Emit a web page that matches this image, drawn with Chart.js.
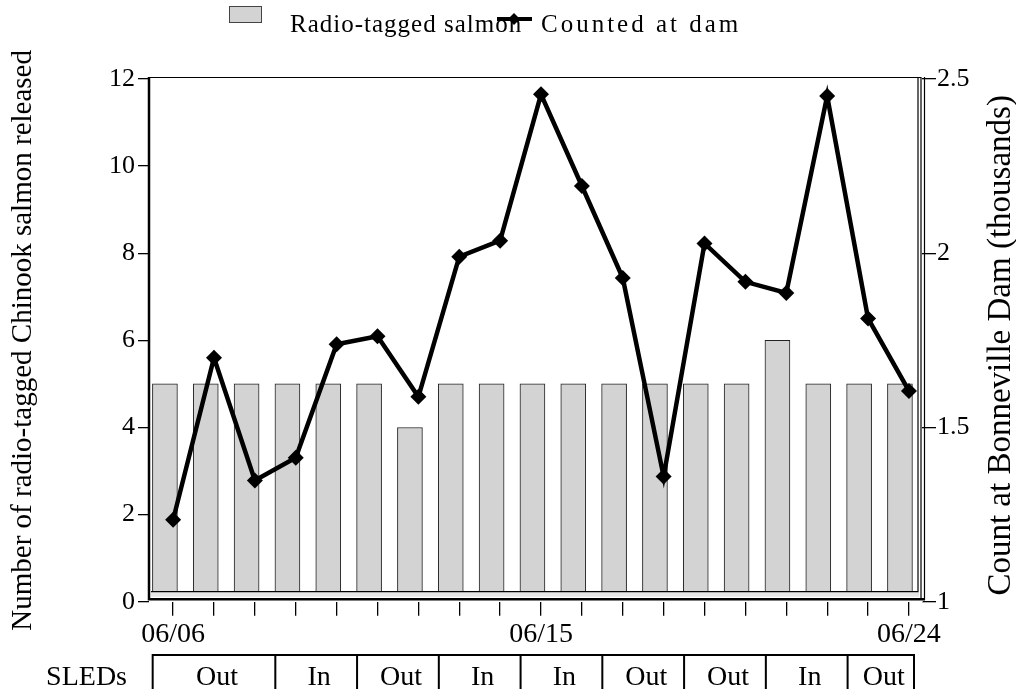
<!DOCTYPE html>
<html lang="en">

<head>
    <meta charset="utf-8" />
    <script src="https://cdn.jsdelivr.net/npm/chart.js@4.4.1/dist/chart.umd.min.js"></script>

    <style>
        html,
        body {
            margin: 0;
            padding: 0;
            background: #fff;
        }

        .chartBox {
            width: 1016px;
            height: 689px;
        }
    </style>
</head>

<body>
    <div class="chartBox">
        <canvas id="salmonChart"></canvas>
    </div>

    <script>
        // Release days, 06/06 .. 06/24
        const dates = [
            "06/06", "06/07", "06/08", "06/09", "06/10", "06/11", "06/12", "06/13", "06/14", "06/15",
            "06/16", "06/17", "06/18", "06/19", "06/20", "06/21", "06/22", "06/23", "06/24"
        ];
        const labelledDates = ["06/06", "06/15", "06/24"];

        // Radio-tagged fish released per day (left axis)
        const tagged = [5, 5, 5, 5, 5, 5, 4, 5, 5, 5, 5, 5, 5, 5, 5, 6, 5, 5, 5];

        // Daily count at the dam, thousands (right axis)
        const counted = [1.235, 1.70, 1.348, 1.413, 1.739, 1.762, 1.588, 1.99, 2.036, 2.456,
            2.193, 1.929, 1.359, 2.028, 1.918, 1.886, 2.451, 1.813, 1.605];

        // SLEDs status blocks: label and first day index of each block
        const sledLabels = ["Out", "In", "Out", "In", "In", "Out", "Out", "In", "Out"];
        const sledStarts = [0, 3, 5, 7, 9, 11, 13, 15, 17];

        const leftTitle = "Number of radio-tagged Chinook salmon released";
        const rightTitle = "Count at Bonneville Dam (thousands)";

        const serif = "'Liberation Serif', 'Times New Roman', serif";
        const barGrey = "#d3d3d3";

        // frame, legend, axis titles and the SLEDs row under the axis
        const decorations = {
            id: "decorations",
            beforeDraw(chart) {
                const ctx = chart.ctx;
                ctx.save();
                ctx.fillStyle = "#fff";
                ctx.fillRect(0, 0, chart.width, chart.height);
                ctx.restore();
            },
            afterDatasetsDraw(chart) {
                const { ctx, chartArea: a } = chart;
                ctx.save();
                // base strip under the bars
                ctx.fillStyle = "#fff";
                ctx.fillRect(a.left + 1, a.bottom - 10, a.right - a.left, 10);
                ctx.fillStyle = "#e6e6e6";
                ctx.fillRect(a.left + 2, a.bottom - 9.5, a.right - a.left - 5, 4.5);

                ctx.strokeStyle = "#000";
                ctx.lineWidth = 1.2;
                ctx.beginPath();
                // inner box
                ctx.moveTo(a.left + 2, a.bottom - 10);
                ctx.lineTo(a.right - 4, a.bottom - 10);
                ctx.lineTo(a.right - 4, a.top - 1);
                // top
                ctx.moveTo(a.left, a.top - 1.5);
                ctx.lineTo(a.right - 1, a.top - 1.5);
                // right double line
                ctx.moveTo(a.right - 1, a.top - 2);
                ctx.lineTo(a.right - 1, a.bottom - 3);
                ctx.moveTo(a.right + 2.5, a.top - 2);
                ctx.lineTo(a.right + 2.5, a.bottom - 2);
                ctx.stroke();

                // left axis and bottom axis
                ctx.lineWidth = 2.5;
                ctx.beginPath();
                ctx.moveTo(a.left, a.top - 2);
                ctx.lineTo(a.left, a.bottom - 2.5);
                ctx.lineTo(a.right + 3, a.bottom - 2.5);
                ctx.stroke();
                ctx.restore();
            },
            afterDraw(chart) {
                const { ctx, chartArea: a } = chart;
                const xs = chart.scales.x;
                const midY = (a.top + a.bottom) / 2;

                ctx.save();
                ctx.fillStyle = "#000";
                ctx.strokeStyle = "#000";

                // axis titles, both reading bottom to top
                ctx.textAlign = "center";
                ctx.textBaseline = "middle";
                [[23, leftTitle, 29, midY], [1001, rightTitle, 33, midY + 5]].forEach(([x, t, size, y]) => {
                    ctx.save();
                    ctx.font = size + "px " + serif;
                    ctx.translate(x, y);
                    ctx.rotate(-Math.PI / 2);
                    ctx.fillText(t, 0, 0);
                    ctx.restore();
                });

                // legend
                const bars = chart.data.datasets[0];
                const line = chart.data.datasets[1];
                ctx.fillStyle = barGrey;
                ctx.fillRect(229.5, 6.5, 32, 16);
                ctx.lineWidth = 1;
                ctx.strokeStyle = "#444";
                ctx.strokeRect(229.5, 6.5, 32, 16);

                ctx.fillStyle = "#000";
                ctx.font = "25px " + serif;
                ctx.textAlign = "left";
                ctx.textBaseline = "alphabetic";
                ctx.letterSpacing = "1px";
                ctx.fillText(bars.label, 290, 32);

                ctx.strokeStyle = "#000";
                ctx.lineWidth = 4;
                ctx.beginPath();
                ctx.moveTo(497, 19);
                ctx.lineTo(532, 19);
                ctx.stroke();
                ctx.beginPath();
                ctx.moveTo(514, 13);
                ctx.lineTo(520, 19);
                ctx.lineTo(514, 25);
                ctx.lineTo(508, 19);
                ctx.closePath();
                ctx.fill();

                ctx.letterSpacing = "3px";
                ctx.fillText(line.label, 541, 32);
                ctx.letterSpacing = "0px";

                // SLEDs row
                const top = 655;
                const bottom = chart.height + 10;
                const edges = sledStarts.map(s => xs.getPixelForValue(s - 0.5));
                edges.push(a.right - 8);
                ctx.lineWidth = 2;
                ctx.strokeRect(edges[0], top, edges[edges.length - 1] - edges[0], bottom - top);
                ctx.beginPath();
                edges.slice(1, -1).forEach(e => {
                    ctx.moveTo(e, top);
                    ctx.lineTo(e, bottom);
                });
                ctx.stroke();

                ctx.font = "28px " + serif;
                ctx.textAlign = "center";
                sledLabels.forEach((lab, i) => {
                    ctx.fillText(lab, (edges[i] + edges[i + 1]) / 2 + 3, 685);
                });
                ctx.textAlign = "right";
                ctx.fillText("SLEDs", 127, 685);

                ctx.restore();
            }
        };

        const tickGrid = len => ({
            display: true,
            drawOnChartArea: false,
            drawTicks: true,
            tickLength: len,
            color: "#000",
            lineWidth: 1.3
        });

        new Chart(document.getElementById("salmonChart"), {
            data: {
                datasets: [{
                    type: "bar",
                    label: "Radio-tagged salmon",
                    data: tagged.map((v, i) => ({ x: i, y: v })),
                    xAxisID: "xb",
                    yAxisID: "y",
                    backgroundColor: barGrey,
                    borderColor: "#222",
                    borderWidth: 1,
                    barThickness: 25,
                    grouped: false,
                    order: 1
                }, {
                    type: "line",
                    label: "Counted at dam",
                    data: counted.map((v, i) => ({ x: i, y: v })),
                    xAxisID: "x",
                    yAxisID: "y2",
                    borderColor: "#000",
                    borderWidth: 4.5,
                    tension: 0,
                    pointStyle: "rectRot",
                    pointRadius: 8,
                    pointBackgroundColor: "#000",
                    pointBorderColor: "#000",
                    pointBorderWidth: 0,
                    order: 0
                }]
            },
            options: {
                responsive: true,
                maintainAspectRatio: false,
                animation: false,
                layout: {
                    padding: { top: 79, left: 0, right: 0, bottom: 0 }
                },
                plugins: {
                    legend: { display: false },
                    tooltip: { enabled: false }
                },
                scales: {
                    x: {
                        type: "linear",
                        position: "bottom",
                        offset: false,
                        min: -0.59,
                        max: 18.32,
                        afterBuildTicks: s => {
                            s.ticks = dates.map((d, i) => ({ value: i }));
                        },
                        afterFit: s => { s.height = 87.3; },
                        grid: tickGrid(14),
                        border: { display: false },
                        ticks: {
                            autoSkip: false,
                            maxRotation: 0,
                            padding: 2,
                            color: "#000",
                            font: { family: serif, size: 28 },
                            callback: v => labelledDates.includes(dates[v]) ? dates[v] : ""
                        }
                    },
                    // bar positions: same days, hidden axis laid out with zero height
                    xb: {
                        type: "linear",
                        position: "top",
                        offset: false,
                        min: -0.39,
                        max: 18.54,
                        afterFit: s => { s.height = 0; },
                        grid: { display: false, offset: false },
                        border: { display: false },
                        ticks: { display: false }
                    },
                    y: {
                        position: "left",
                        min: 0,
                        max: 12,
                        afterFit: s => { s.width = 149; },
                        grid: tickGrid(11),
                        border: { display: false },
                        ticks: {
                            stepSize: 2,
                            padding: 3,
                            color: "#000",
                            font: { family: serif, size: 26 }
                        }
                    },
                    y2: {
                        position: "right",
                        min: 1,
                        max: 2.5,
                        afterFit: s => { s.width = 94; },
                        grid: tickGrid(14),
                        border: { display: false },
                        ticks: {
                            stepSize: 0.5,
                            padding: 1,
                            color: "#000",
                            font: { family: serif, size: 26 },
                            callback: v => String(v)
                        }
                    }
                }
            },
            plugins: [decorations]
        });
    </script>
</body>

</html>
